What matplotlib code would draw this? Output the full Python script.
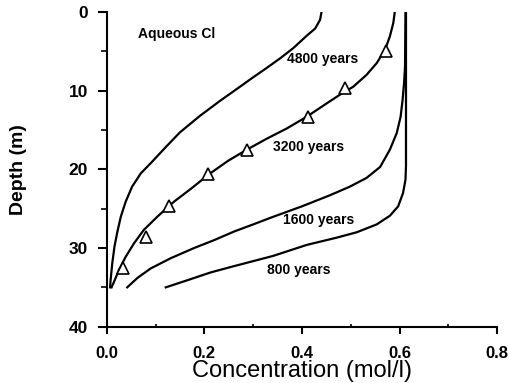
import numpy as np
import matplotlib
matplotlib.use("Agg")
import matplotlib.pyplot as plt

plt.rcParams['font.family'] = ['Liberation Sans', 'DejaVu Sans']

# 4800 years (leftmost curve)
c4800 = [0.440, 0.437, 0.427, 0.410, 0.382, 0.355, 0.328, 0.300, 0.273, 0.232, 0.191, 0.150,
         0.119, 0.092, 0.070, 0.052, 0.039, 0.029, 0.022, 0.016, 0.0115, 0.008, 0.007]
d4800 = [0.0, 1.0, 2.1, 3.0, 4.6, 5.9, 7.1, 8.3, 9.5, 11.3, 13.2, 15.3,
         17.3, 19.1, 20.5, 22.2, 24.1, 26.0, 27.9, 29.8, 31.9, 34.1, 35.0]

# 3200 years (model curve)
c3200 = [0.590, 0.587, 0.580, 0.570, 0.553, 0.532, 0.505, 0.478, 0.451, 0.410, 0.369,
         0.328, 0.287, 0.249, 0.210, 0.174, 0.138, 0.104, 0.076, 0.056, 0.039, 0.025,
         0.015, 0.010]
d3200 = [0.0, 1.4, 3.1, 4.8, 6.5, 8.0, 9.5, 10.5, 11.6, 13.3, 14.8,
         16.1, 17.5, 18.9, 20.6, 22.4, 24.1, 26.0, 27.7, 29.4, 31.1, 32.8,
         34.3, 35.0]

# 3200 years measured (triangles)
obs_c = [0.033, 0.080, 0.128, 0.207, 0.287, 0.412, 0.489, 0.573]
obs_d = [32.6, 28.6, 24.7, 20.6, 17.6, 13.4, 9.6, 4.9]

# 1600 years
c1600 = [0.042, 0.063, 0.090, 0.131, 0.179, 0.220, 0.261, 0.300, 0.338, 0.400, 0.457,
         0.498, 0.532, 0.560, 0.580, 0.594, 0.602, 0.606, 0.609, 0.611, 0.612]
d1600 = [35.0, 33.8, 32.6, 31.3, 30.0, 29.0, 27.9, 27.0, 26.1, 24.7, 23.3,
         22.2, 21.1, 19.7, 17.5, 15.4, 13.3, 11.2, 9.1, 7.0, 0.0]

# 800 years
c800 = [0.121, 0.165, 0.213, 0.261, 0.341, 0.410, 0.470, 0.512, 0.553, 0.580,
        0.597, 0.607, 0.612, 0.613, 0.613]
d800 = [35.0, 34.1, 33.1, 32.3, 31.0, 29.6, 28.7, 28.0, 27.0, 25.9,
        24.7, 23.0, 21.3, 19.5, 0.0]

fig = plt.figure(figsize=(5.09, 3.83), dpi=100)
ax = fig.add_axes([0.2096, 0.147, 0.7674, 0.8217])

for c, d in [(c4800, d4800), (c3200, d3200), (c1600, d1600), (c800, d800)]:
    ax.plot(c, d, color='black', lw=1.6, solid_joinstyle='round')
ax.plot(obs_c, obs_d, linestyle='none', marker='^', markersize=8.5,
        markerfacecolor='white', markeredgecolor='black', markeredgewidth=1.2)

lab = dict(fontsize=10, fontweight='bold', va='center', ha='left')
ax.text(0.064, 2.8, 'Aqueous Cl', **lab)
ax.text(0.369, 6.0, '4800 years', **lab)
ax.text(0.340, 17.2, '3200 years', **lab)
ax.text(0.362, 26.4, '1600 years', **lab)
ax.text(0.328, 32.8, '800 years', **lab)

ax.set_xlim(0, 0.8)
ax.set_ylim(40, 0)
ax.set_xticks([0.0, 0.2, 0.4, 0.6, 0.8])
ax.set_xticks([0.1, 0.3, 0.5, 0.7], minor=True)
ax.set_yticks([0, 10, 20, 30, 40])
ax.set_yticks([5, 15, 25, 35], minor=True)
ax.set_xticklabels(['0.0', '0.2', '0.4', '0.6', '0.8'], fontsize=12, fontweight='bold')
ax.set_yticklabels(['0', '10', '20', '30', '40'], fontsize=12.5, fontweight='bold')

for s in ['top', 'right']:
    ax.spines[s].set_visible(False)
for s in ['left', 'bottom']:
    ax.spines[s].set_linewidth(1.5)

ax.tick_params(axis='y', which='major', direction='out', length=6.5, width=1.5, pad=7)
ax.tick_params(axis='y', which='minor', direction='out', length=4, width=1.2)
ax.tick_params(axis='x', which='major', direction='out', length=5, width=1.5, pad=9)
ax.tick_params(axis='x', which='minor', direction='in', length=2.5, width=1.2)

fig.text(302 / 509, 1 - 371 / 383, 'Concentration (mol/l)', fontsize=17,
         ha='center', va='center')
fig.text(19 / 509, 1 - 170 / 383, 'Depth (m)', fontsize=14, fontweight='bold',
         rotation=90, ha='center', va='center')

fig.savefig('out.png', dpi=100)
